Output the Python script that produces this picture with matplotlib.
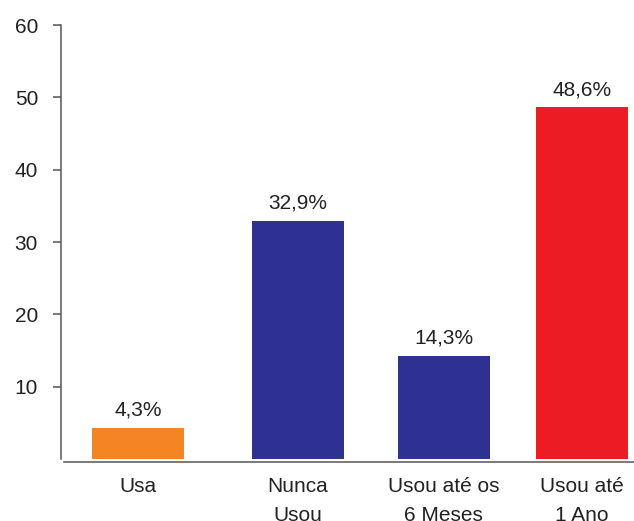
import matplotlib
matplotlib.use("Agg")
import matplotlib.pyplot as plt

plt.rcParams['font.family'] = ['Liberation Sans', 'DejaVu Sans']

categorias = ['Usa', 'Nunca\nUsou', 'Usou até os\n6 Meses', 'Usou até\n1 Ano']
percentuais = [4.3, 32.9, 14.3, 48.6]
rotulos = ['4,3%', '32,9%', '14,3%', '48,6%']
cores = ['#F58523', '#2E3192', '#2E3192', '#ED1C24']

# bar centres (slightly uneven spacing)
posicoes = [0.0, 1.083, 2.07, 3.004]
largura = 0.62
texto = '#222222'
eixo = '#555555'
fs = 15

fig = plt.figure(figsize=(6.34, 5.21), dpi=100)
ax = fig.add_axes([0.0962, 0.1132, 0.9038, 0.8388])

barras = ax.bar(posicoes, percentuais, width=largura, color=cores)
for b, r in zip(barras, rotulos):
    ax.annotate(r, (b.get_x() + b.get_width() / 2, b.get_height()),
                xytext=(0, 6), textcoords='offset points',
                ha='center', va='bottom', fontsize=fs, color=texto)

ax.set_xlim(-0.521, 3.356)
ax.set_ylim(-0.4, 60)
ax.set_yticks([10, 20, 30, 40, 50, 60])
ax.set_yticklabels(['10', '20', '30', '40', '50', '60'])
ax.set_xticks(posicoes)
ax.set_xticklabels(categorias, linespacing=1.65)

ax.tick_params(axis='y', length=5.5, width=1.1, color=eixo, pad=11,
               labelsize=fs, labelcolor=texto)
ax.tick_params(axis='x', length=0, pad=11, labelsize=fs, labelcolor=texto)

for s in ['top', 'right']:
    ax.spines[s].set_visible(False)
ax.spines['left'].set_color(eixo)
ax.spines['left'].set_linewidth(1.1)
ax.spines['left'].set_bounds(0, 60)
ax.spines['bottom'].set_color(eixo)
ax.spines['bottom'].set_linewidth(1.1)
ax.spines['bottom'].set_bounds(-0.5, 3.356)

fig.savefig('out.png', dpi=100)
